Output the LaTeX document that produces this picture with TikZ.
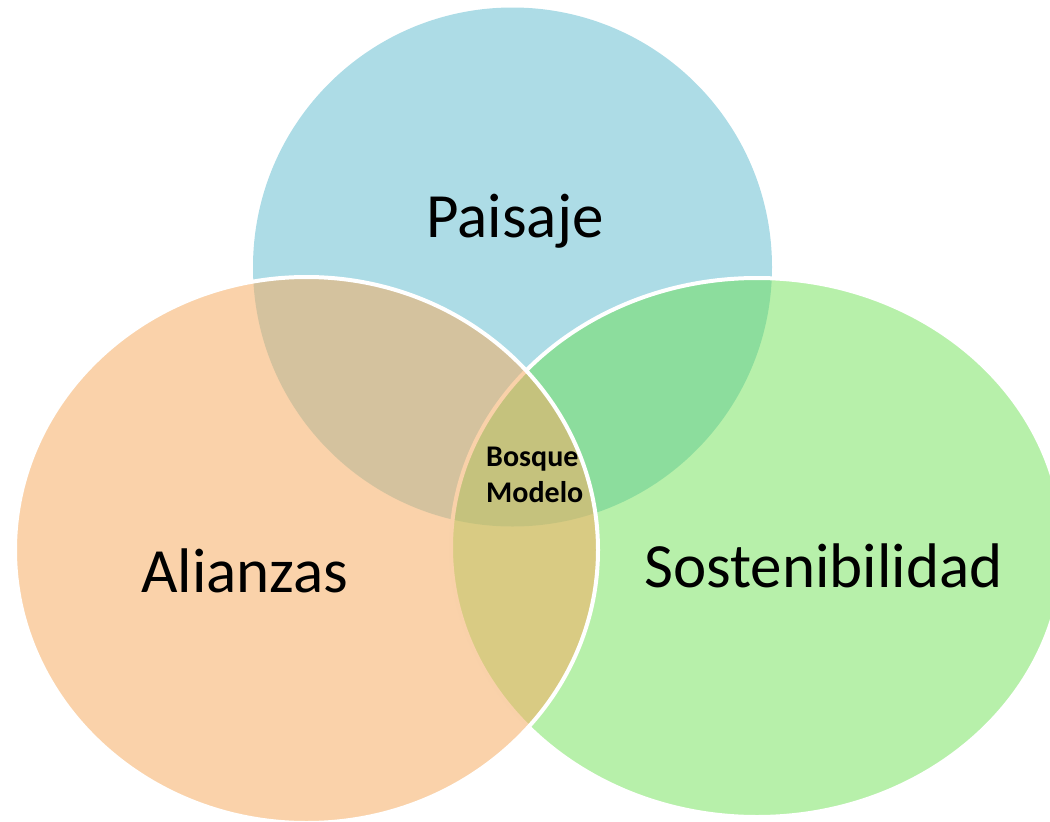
\documentclass[tikz,border=0pt]{standalone}
\usepackage{fontspec}
\setmainfont{Carlito}
\usetikzlibrary{positioning}
\definecolor{azulPaisaje}{RGB}{173,220,230}
\definecolor{naranjaAlianza}{RGB}{245,173,100}
\definecolor{verdeSosten}{RGB}{105,224,78}
\tikzset {
	conjunto/.style={draw=white, line width=4pt},
	titulo/.style={anchor=base, inner sep=0pt, font=\fontsize{63}{75}\selectfont},
	centro/.style={anchor=base west, inner sep=0pt, align=left, font=\fontsize{30}{36}\selectfont\bfseries}
}

\begin{document}
\begin{tikzpicture}[x=1pt, y=-1pt]
	\useasboundingbox (0,0) rectangle (1050,822);
	\clip (0,0) rectangle (1050,822);
	\fill [azulPaisaje] (512.5,267) circle (259.5);
	\filldraw [conjunto, fill=verdeSosten, fill opacity=.48] (757,547.5) ellipse (306 and 269.5);
	\filldraw [conjunto, fill=naranjaAlianza, fill opacity=.55] (306.5,550) ellipse (291.5 and 273);
	\node [titulo] (paisaje) at (515,237) {Paisaje};
	\node [titulo] (alianzas) at (245,592) {Alianzas};
	\node [titulo] (sostenibilidad) at (823.5,587) {Sostenibilidad};
	\node [centro] (bosque) at (486,502) {Bosque\\Modelo};
\end{tikzpicture}
\end{document}
